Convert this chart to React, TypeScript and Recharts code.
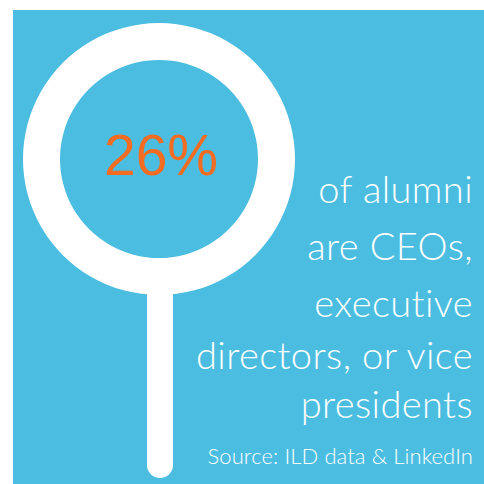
import React from "react";
import { PieChart, Pie, Cell, Customized } from "recharts";

const statValue = [26];
const ringData = [{ name: "ring", value: 100 }];
const textLines = ["of alumni", "are CEOs,", "executive", "directors, or vice", "presidents"];
const sourceLine = "Source: ILD data & LinkedIn";

const BLUE = "#4BBDE0";
const ORANGE = "#F36C21";

const lineY = [203, 260, 317, 369, 418];

const Overlay = () => (
  <g>
    <rect x={147} y={280} width={26} height={198} rx={13} ry={13} fill="#FFFFFF" />
    <text
      x={161}
      y={175}
      textAnchor="middle"
      fontFamily="'Liberation Sans', Arial, sans-serif"
      fontSize={57}
      fill={ORANGE}
    >
      {statValue[0]}%
    </text>
    {textLines.map((t, i) => (
      <text
        key={t}
        x={473}
        y={lineY[i]}
        textAnchor="end"
        fontFamily="Lato, sans-serif"
        fontWeight={300}
        fontSize={38}
        letterSpacing={0.4}
        style={{ fontVariantLigatures: "none" }}
        fill="#FFFFFF"
      >
        {t}
      </text>
    ))}
    <text
      x={473}
      y={464}
      textAnchor="end"
      fontFamily="Lato, sans-serif"
      fontWeight={300}
      fontSize={22}
      letterSpacing={0.1}
      style={{ fontVariantLigatures: "none" }}
      fill="#FFFFFF"
    >
      {sourceLine}
    </text>
  </g>
);

export default function App() {
  return (
    <div style={{ position: "fixed", left: 0, top: 0, width: 484, height: 484, background: "#FFFFFF" }}>
      <div style={{ position: "absolute", left: 13, top: 10, width: 471, height: 474, background: BLUE }} />
      <div style={{ position: "absolute", left: 0, top: 0 }}>
        <PieChart width={484} height={484} margin={{ top: 0, right: 0, bottom: 0, left: 0 }}>
          <Customized component={Overlay} />
          <Pie
            data={ringData}
            dataKey="value"
            cx={159}
            cy={159}
            innerRadius={99}
            outerRadius={136}
            startAngle={90}
            endAngle={-270}
            stroke="none"
            isAnimationActive={false}
          >
            {ringData.map((d) => (
              <Cell key={d.name} fill="#FFFFFF" />
            ))}
          </Pie>
        </PieChart>
      </div>
    </div>
  );
}
